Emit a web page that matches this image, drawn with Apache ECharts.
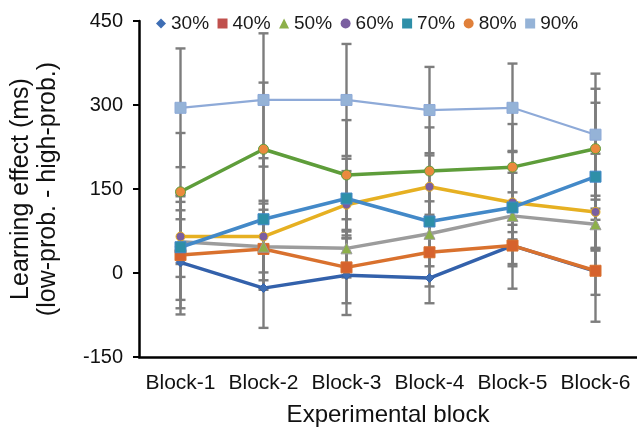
<!DOCTYPE html>
<html>
<head>
<meta charset="utf-8">
<script src="https://cdn.jsdelivr.net/npm/echarts@6/dist/echarts.min.js"></script>
<style>html,body{margin:0;padding:0;background:#fff}#c{width:637px;height:438px}</style>
</head>
<body>
<div id="c"></div>
<script>
const categories = ['Block-1','Block-2','Block-3','Block-4','Block-5','Block-6'];
const seriesNames = ['30%','40%','50%','60%','70%','80%','90%'];
const v30 = [19, -27, -4, -9, 49, 3];
const v40 = [32, 43, 10, 37, 49, 4];
const v50 = [56, 47, 44, 70, 102, 87];
const v60 = [65, 65, 122, 154, 126, 109];
const v70 = [46, 96, 133, 92, 117, 172];
const v80 = [145, 221, 175, 182, 189, 222];
const v90 = [295, 309, 309, 291, 295, 247];
const e30 = [93, 71, 71, 45, 77, 42];
const e40 = [95, 70, 64, 61, 37, 91];
const e50 = [40, 77, 52, 58, 42, 44];
const e60 = [72, 64, 60, 56, 53, 104];
const e70 = [94, 109, 71, 60, 101, 132];
const e80 = [105, 119, 98, 78, 77, 107];
const e90 = [106, 119, 100, 77, 79, 109];
const yTicks = [-150, 0, 150, 300, 450];

const values = [v30, v40, v50, v60, v70, v80, v90];
const errors = [e30, e40, e50, e60, e70, e80, e90];
const lineColors = ['#3361ab', '#d9712e', '#9c9c9c', '#e6b022', '#4389c8', '#5e9d3a', '#8eaad8'];
const markerFill = ['#3e6eb4', '#d6622d', '#8db04a', '#7a5ea0', '#2e8fa8', '#ea8a3e', '#95b3d7'];
const legendColors = ['#3e6eb4', '#c0504d', '#8db04a', '#7a5ea0', '#2e8fa8', '#e0803a', '#95b3d7'];
const symbols = ['diamond', 'rect', 'triangle', 'circle', 'rect', 'circle', 'rect'];
const symbolSizes = [9, 11, 11, 9, 11, 10, 11];
const lineWidths = [3.5, 3.5, 3.5, 3.5, 3.5, 3.5, 2.2];

const FONT = "'Liberation Sans', Arial, sans-serif";

function errRender(params, api) {
  const x = api.value(0);
  const lo = api.coord([x, api.value(1)]);
  const hi = api.coord([x, api.value(2)]);
  const cw = 5;
  const st = { stroke: '#7d7d7d', lineWidth: 2.4 };
  return {
    type: 'group',
    children: [
      { type: 'line', shape: { x1: lo[0], y1: lo[1], x2: hi[0], y2: hi[1] }, style: st },
      { type: 'line', shape: { x1: hi[0] - cw, y1: hi[1], x2: hi[0] + cw, y2: hi[1] }, style: st },
      { type: 'line', shape: { x1: lo[0] - cw, y1: lo[1], x2: lo[0] + cw, y2: lo[1] }, style: st }
    ]
  };
}

const series = [];
values.forEach((vals, i) => {
  series.push({
    type: 'custom',
    renderItem: errRender,
    z: 1,
    silent: true,
    encode: { x: 0, y: [1, 2] },
    data: vals.map((v, k) => [k, v - errors[i][k], v + errors[i][k]])
  });
});
values.forEach((vals, i) => {
  series.push({
    name: seriesNames[i],
    type: 'line',
    z: 3,
    data: vals,
    symbol: symbols[i],
    symbolSize: symbolSizes[i],
    lineStyle: { color: lineColors[i], width: lineWidths[i] },
    itemStyle: { color: markerFill[i], borderColor: lineColors[i], borderWidth: 1 },
    emphasis: { disabled: true }
  });
});

const chart = echarts.init(document.getElementById('c'), null, { renderer: 'canvas' });
chart.setOption({
  animation: false,
  backgroundColor: '#fff',
  textStyle: { fontFamily: FONT },
  legend: {
    left: 151, top: 9,
    itemWidth: 10, itemHeight: 10, itemGap: 8.5,
    textStyle: { fontSize: 19, color: '#1a1a1a', fontFamily: FONT },
    data: seriesNames.map((n, i) => ({ name: n, icon: symbols[i], itemStyle: { color: legendColors[i], borderWidth: 0 } }))
  },
  grid: { left: 137.5, top: 21, width: 501.6, height: 336, containLabel: false },
  xAxis: {
    type: 'category',
    data: categories,
    boundaryGap: true,
    axisLine: { onZero: false, lineStyle: { color: '#000', width: 2.5 } },
    axisTick: { alignWithLabel: true, length: 5, lineStyle: { color: '#000', width: 2 } },
    axisLabel: { interval: 0, hideOverlap: false, fontSize: 21, color: '#111', margin: 16, fontFamily: FONT },
    name: 'Experimental block',
    nameLocation: 'middle',
    nameGap: 46,
    nameTextStyle: { fontSize: 24, color: '#111', fontFamily: FONT }
  },
  yAxis: {
    type: 'value',
    min: yTicks[0], max: yTicks[yTicks.length - 1], interval: 150,
    axisLine: { show: true, lineStyle: { color: '#000', width: 2.5 } },
    axisTick: { show: true, length: 6, lineStyle: { color: '#000', width: 2 } },
    splitLine: { show: false },
    axisLabel: { fontSize: 20, color: '#111', margin: 16, fontFamily: FONT },
    name: 'Learning effect (ms)\n(low-prob. - high-prob.)',
    nameLocation: 'middle',
    nameRotate: 90,
    nameGap: 77,
    nameTextStyle: { fontSize: 25, lineHeight: 27, color: '#111', fontFamily: FONT }
  },
  series: series
});
</script>
</body>
</html>
